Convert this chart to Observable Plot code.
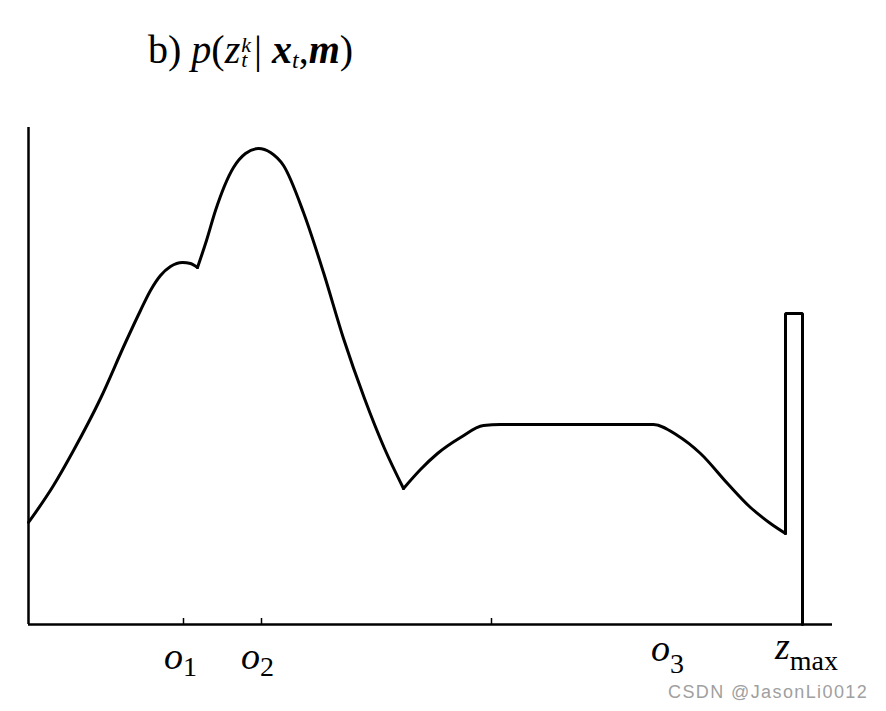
<!DOCTYPE html>
<html>
<head>
<meta charset="utf-8">
<script src="https://cdn.jsdelivr.net/npm/d3@7"></script>
<script src="https://cdn.jsdelivr.net/npm/@observablehq/plot@0.6"></script>
<style>
  html, body { margin: 0; padding: 0; background: #fff; }
  #wrap { position: relative; width: 886px; height: 711px; overflow: hidden; background: #fff; }
  #title { position: absolute; left: 148px; top: 30px; font-family: "Liberation Serif", "DejaVu Serif", serif; font-size: 40px; line-height: 40px; white-space: nowrap; color: #000; }
  #title i { font-style: italic; }
  #title .bi { font-style: italic; font-weight: bold; }
  #title .ss { display: inline-block; font-size: 22px; line-height: 15px; vertical-align: -4px; margin-left: 1px; margin-right: 3px; }
  #title .sb { font-size: 24px; font-style: italic; vertical-align: -5px; line-height: 0; }
  #wm { position: absolute; left: 668px; top: 682px; font-family: "Liberation Sans", Arial, sans-serif; font-size: 18px; letter-spacing: 1.4px; color: #a0a0a0; white-space: nowrap; }
  #chart { position: absolute; left: 0; top: 0; }
</style>
</head>
<body>
<div id="wrap">
  <div id="chart"></div>
  <div id="title">b) <i>p</i>(<i>z</i><span class="ss"><i>k</i><br><i>t</i></span>| <span class="bi">x</span><span class="sb">t</span>,<span class="bi">m</span>)</div>
  <div id="wm">CSDN @JasonLi0012</div>
</div>
<script>
// Segment ids split the curve at its cusps.
const curveSeg = [
  "a","a","a","a","a","a","a","a","a","a","a","a",
  "b","b","b","b","b","b","b","b","b","b","b","b","b","b",
  "c","c","c","c","c","c","c","c","c","c","c","c","c","c"
];
const curveX = [
  0, 25, 45, 72, 97, 112, 122, 132, 142, 154, 162, 169,
  169, 178, 187, 205, 217, 230, 242, 255, 275, 295, 315, 336, 356, 375,
  375, 392, 409, 432, 455, 472, 550, 625, 649, 672, 699, 722, 742, 757
];
const curveY = [
  102, 139, 174, 226, 282, 314, 334, 349, 358, 362, 361, 357,
  357, 384, 414, 457, 471, 476, 472, 459, 412, 352, 286, 226, 176, 136,
  136, 155, 171, 187, 199, 200, 200, 200, 189, 171, 141, 117, 101, 91
];
// Max-range spike at z_max
const spikeX = [757, 757, 774, 774];
const spikeY = [91, 311, 311, 0];

// Axis extents
const xMax = 804;
const yMax = 497;

// Tick marks (unlabelled) and tick labels
const tickX = [155, 233, 463];
const labelX = [152, 229, 639, 778];
const labelBase = ["o", "o", "o", "z"];
const labelSub = ["1", "2", "3", "max"];

const curve = curveX.map((x, i) => ({x, y: curveY[i], seg: curveSeg[i]}));
const spike = spikeX.map((x, i) => ({x, y: spikeY[i]}));
const labels = labelX.map((x, i) => ({x, base: labelBase[i], sub: labelSub[i]}));

// per-label typographic offsets (px): lift of the base letter, drop of the subscript
const labelLift = [0, 0, 8, 10];
const labelDrop = [7, 7, 12, 11];

const serif = "Liberation Serif, DejaVu Serif, serif";

const svg = Plot.plot({
  width: 886,
  height: 711,
  marginLeft: 28,
  marginRight: 54,
  marginTop: 127,
  marginBottom: 87,
  x: {domain: [0, xMax], axis: null},
  y: {domain: [0, yMax], axis: null},
  style: {background: "white"},
  marks: [
    Plot.ruleX([0], {y1: 0, y2: yMax, stroke: "black", strokeWidth: 2.5}),
    Plot.ruleY([0], {x1: 0, x2: xMax, stroke: "black", strokeWidth: 2.5}),
    Plot.ruleX(tickX, {x: d => d, y1: 0, y2: 6, stroke: "black", strokeWidth: 1.5}),
    Plot.line(curve, {x: "x", y: "y", z: "seg", curve: "monotone-x", stroke: "black", strokeWidth: 3, strokeLinejoin: "miter"}),
    Plot.line(spike, {x: "x", y: "y", stroke: "black", strokeWidth: 3, strokeLinejoin: "miter"}),
    Plot.text(labels, {x: "x", y: 0, text: "base", dy: 44, lineAnchor: "bottom", textAnchor: "middle",
      fontFamily: serif, fontSize: 38, fontStyle: "italic", fill: "black"})
  ]
});

// Add subscripts to the tick labels as tspans
const texts = svg.querySelectorAll('g[aria-label="text"] text');
texts.forEach((t, i) => {
  const d = labels[i];
  t.textContent = "";
  const b = document.createElementNS("http://www.w3.org/2000/svg", "tspan");
  b.setAttribute("dy", -labelLift[i]);
  b.textContent = d.base;
  const s = document.createElementNS("http://www.w3.org/2000/svg", "tspan");
  s.setAttribute("dy", labelDrop[i]);
  s.setAttribute("font-size", 28);
  s.setAttribute("font-style", "normal");
  s.textContent = d.sub;
  t.appendChild(b);
  t.appendChild(s);
});

document.getElementById("chart").appendChild(svg);
</script>
</body>
</html>
